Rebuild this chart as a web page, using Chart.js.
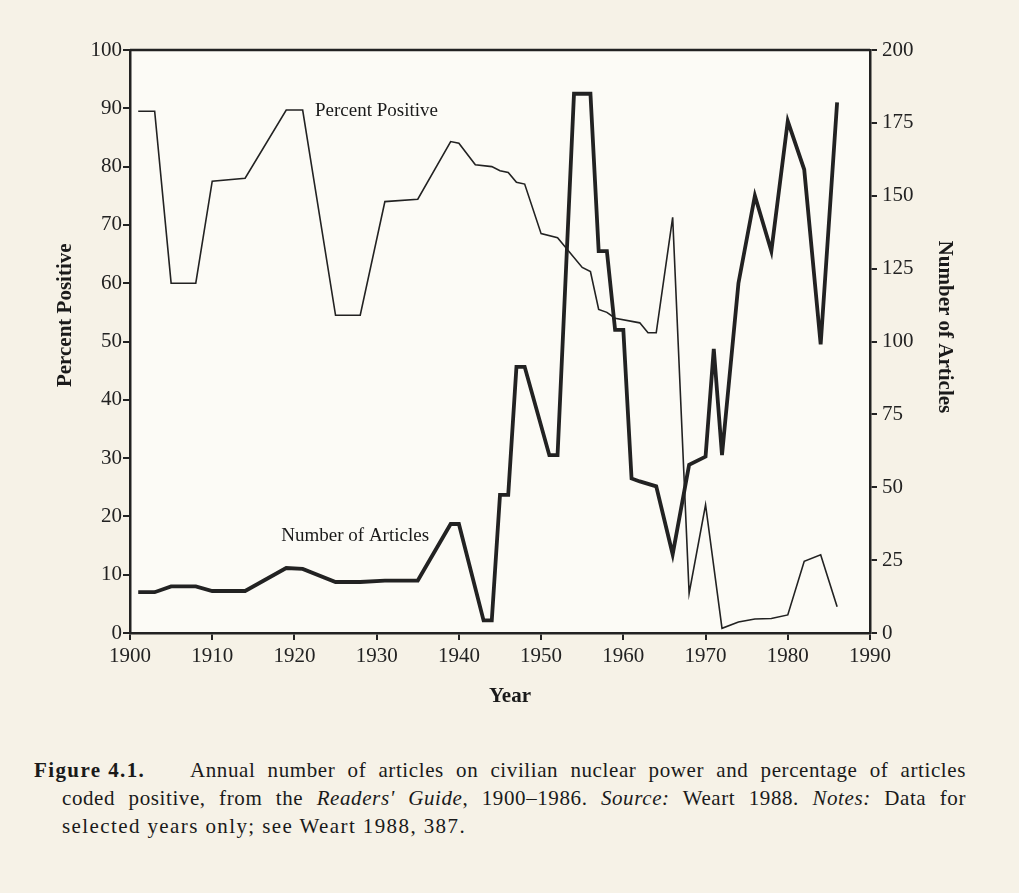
<html>
<head>
<script src="https://cdn.jsdelivr.net/npm/chart.js"></script>
<style>
  body { margin: 0; background: #f6f2e7; }
  #wrap { position: relative; width: 1019px; height: 893px; }
  #myChart { position: absolute; left: 0; top: 0; }
  .cap { position: absolute; font-family: "Liberation Serif", serif; font-size: 21px; letter-spacing: 1.4px; color: #1a1a1a; white-space: nowrap; }
  .just { text-align: justify; text-align-last: justify; white-space: normal; letter-spacing: 0.6px; }
</style>
</head>
<body>
<div id="wrap">
  <canvas id="myChart" width="1019" height="720"></canvas>
  <div class="cap" style="left:34px; top:758px;"><b>Figure 4.1.</b></div>
  <div class="cap just" style="left:190px; top:758px; width:776px;">Annual number of articles on civilian nuclear power and percentage of articles</div>
  <div class="cap just" style="left:62px; top:786px; width:904px;">coded positive, from the <i>Readers' Guide</i>, 1900–1986. <i>Source:</i> Weart 1988. <i>Notes:</i> Data for</div>
  <div class="cap" style="left:62px; top:814px;">selected years only; see Weart 1988, 387.</div>
</div>
<script>
  // Percent positive (left axis)
  const ppYears  = [1901, 1903, 1905, 1908, 1910, 1914, 1919, 1921, 1925, 1928, 1931, 1935, 1939, 1940, 1942, 1944, 1945, 1946, 1947, 1948, 1950, 1952, 1955, 1956, 1957, 1958, 1959, 1962, 1963, 1964, 1966, 1968, 1970, 1972, 1974, 1976, 1978, 1980, 1982, 1984, 1986];
  const ppValues = [89.5, 89.5, 60, 60, 77.5, 78, 89.7, 89.7, 54.5, 54.5, 74, 74.4, 84.3, 84, 80.3, 80, 79.3, 79, 77.3, 77, 68.5, 67.8, 62.7, 62, 55.5, 55, 54, 53.2, 51.5, 51.5, 71.3, 6.8, 22, 0.8, 1.9, 2.4, 2.5, 3.1, 12.3, 13.4, 4.5];

  // Number of articles (right axis)
  const artYears  = [1901, 1903, 1905, 1908, 1910, 1914, 1919, 1921, 1925, 1928, 1931, 1935, 1939, 1940, 1943, 1944, 1945, 1946, 1947, 1948, 1951, 1952, 1954, 1956, 1957, 1958, 1959, 1960, 1961, 1962, 1964, 1966, 1968, 1970, 1971, 1972, 1974, 1976, 1978, 1980, 1982, 1984, 1986];
  const artValues = [14, 14, 16, 16, 14.4, 14.4, 22.3, 22, 17.5, 17.5, 18, 18, 37.4, 37.4, 4.3, 4.3, 47.4, 47.4, 91.3, 91.3, 61, 61, 185, 185, 131, 131, 104, 104, 53, 52, 50.3, 27, 57.7, 60.5, 97.5, 61, 120, 150, 131, 175.6, 159, 99, 182];

  const ink = '#222';
  const tickFont = { family: 'Liberation Serif', size: 21 };

  // plot background, top border, axis titles and in-plot labels
  const frame = {
    id: 'frame',
    beforeDraw(chart) {
      const a = chart.chartArea, c = chart.ctx;
      c.save();
      c.fillStyle = '#fcfbf6';
      c.fillRect(a.left, a.top, a.right - a.left, a.bottom - a.top);
      c.restore();
    },
    afterDraw(chart) {
      const a = chart.chartArea, c = chart.ctx;
      const sx = chart.scales.x, sy = chart.scales.y;
      c.save();
      c.strokeStyle = ink;
      c.lineWidth = 2.5;
      c.beginPath();
      c.moveTo(a.left, a.top);
      c.lineTo(a.right, a.top);
      c.stroke();

      c.fillStyle = '#1a1a1a';
      c.textBaseline = 'middle';
      c.font = '19px "Liberation Serif"';
      c.fillText('Percent Positive', sx.getPixelForValue(1922.5), sy.getPixelForValue(89.5));
      c.fillText('Number of Articles', sx.getPixelForValue(1918.4), sy.getPixelForValue(16.6));

      c.textAlign = 'center';
      c.font = 'bold 21px "Liberation Serif"';
      c.fillText('Year', (a.left + a.right) / 2 + 10, a.bottom + 64);
      c.save();
      c.translate(66, sy.getPixelForValue(54.5));
      c.rotate(-Math.PI / 2);
      c.fillText('Percent Positive', 0, 0);
      c.restore();
      c.save();
      c.translate(944, sy.getPixelForValue(52.5));
      c.rotate(Math.PI / 2);
      c.fillText('Number of Articles', 0, 0);
      c.restore();
      c.restore();
    }
  };

  const config = {
    type: 'line',
    data: {
      datasets: [{
        label: 'Percent Positive',
        data: ppYears.map((x, i) => ({ x: x, y: ppValues[i] })),
        yAxisID: 'y',
        borderColor: ink,
        borderWidth: 1.6,
        pointRadius: 0,
        tension: 0
      }, {
        label: 'Number of Articles',
        data: artYears.map((x, i) => ({ x: x, y: artValues[i] })),
        yAxisID: 'y2',
        borderColor: ink,
        borderWidth: 3.8,
        pointRadius: 0,
        tension: 0
      }]
    },
    options: {
      responsive: false,
      animation: false,
      layout: { padding: { left: 50, right: 59, top: 50, bottom: 8 } },
      plugins: { legend: { display: false }, tooltip: { enabled: false } },
      scales: {
        x: {
          type: 'linear', min: 1900, max: 1990,
          ticks: { stepSize: 10, callback: v => String(v), font: tickFont, color: ink, padding: 4, maxRotation: 0 },
          grid: { drawOnChartArea: false, tickLength: 7, color: ink, lineWidth: 2 },
          border: { color: ink, width: 2.5 },
          afterFit: s => { s.height = 79; }
        },
        y: {
          position: 'left', min: 0, max: 100,
          ticks: { stepSize: 10, font: tickFont, color: ink, padding: 1 },
          grid: { drawOnChartArea: false, tickLength: 7, color: ink, lineWidth: 2 },
          border: { color: ink, width: 2.5 },
          afterFit: s => { s.width = 80; }
        },
        y2: {
          position: 'right', min: 0, max: 200,
          ticks: { stepSize: 25, font: tickFont, color: ink, padding: 5 },
          grid: { drawOnChartArea: false, tickLength: 7, color: ink, lineWidth: 2 },
          border: { color: ink, width: 2.5 },
          afterFit: s => { s.width = 90; }
        }
      }
    },
    plugins: [frame]
  };

  const ctx = document.getElementById('myChart').getContext('2d');
  const myChart = new Chart(ctx, config);
</script>
</body>
</html>
